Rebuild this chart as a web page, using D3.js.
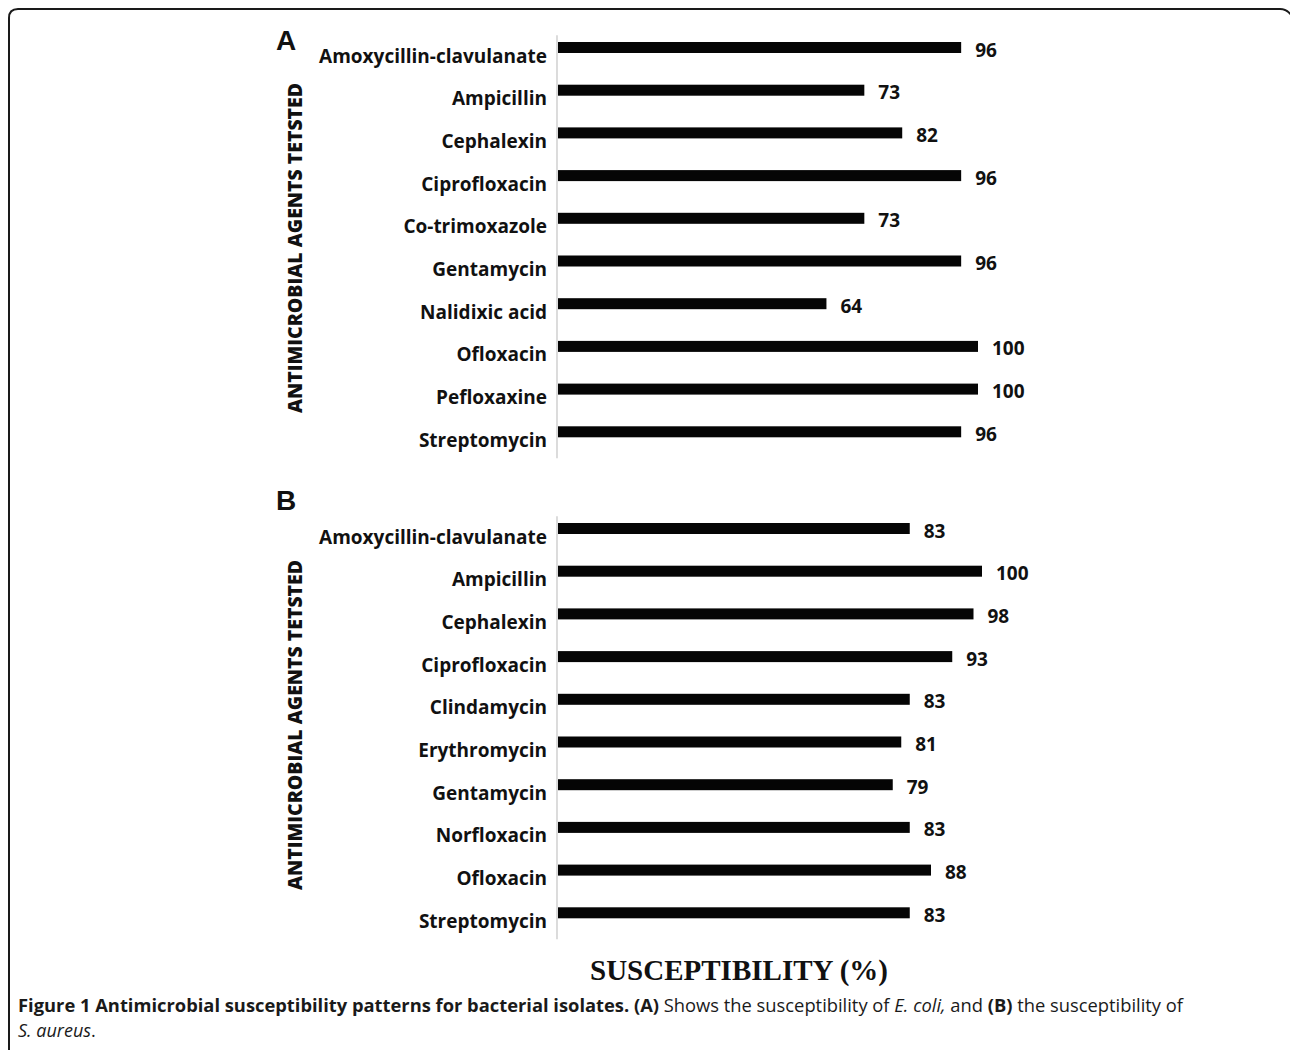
<!DOCTYPE html>
<html><head><meta charset="utf-8">
<script src="https://cdn.jsdelivr.net/npm/d3@7"></script>
<style>body{margin:0;background:#fff} svg{display:block}</style>
</head><body><svg id="c" width="1290" height="1050"></svg>
<script>
const catsA = ["Amoxycillin-clavulanate","Ampicillin","Cephalexin","Ciprofloxacin","Co-trimoxazole","Gentamycin","Nalidixic acid","Ofloxacin","Pefloxaxine","Streptomycin"];
const valsA = [96,73,82,96,73,96,64,100,100,96];
const catsB = ["Amoxycillin-clavulanate","Ampicillin","Cephalexin","Ciprofloxacin","Clindamycin","Erythromycin","Gentamycin","Norfloxacin","Ofloxacin","Streptomycin"];
const valsB = [83,100,98,93,83,81,79,83,88,83];
const yTitle = "ANTIMICROBIAL AGENTS TETSTED";
const xTitle = "SUSCEPTIBILITY (%)";

const svg = d3.select("#c");
svg.append("path")
  .attr("d","M9,1055 L9,18 Q9,9 18,9 L1280,9 Q1287,9 1292,16")
  .attr("fill","none").attr("stroke","#1a1a1a").attr("stroke-width",2);

function panel(cats, vals, top, xMax, letter, letterY, titleCY) {
  const y = d3.scaleBand().domain(cats).range([top, top + 427]);
  const x = d3.scaleLinear().domain([0, 100]).range([557, xMax]);
  const g = svg.append("g");
  const ax = g.append("g").attr("transform", `translate(${x(0)},0)`)
    .call(d3.axisLeft(y).tickSize(0).tickPadding(10));
  ax.select(".domain").remove();
  ax.selectAll("text")
    .attr("font-family","'Open Sans', sans-serif").attr("font-weight",700)
    .attr("font-size",19).attr("fill","#111")
    .attr("transform","translate(0,9)");
  g.append("line").attr("x1",x(0)).attr("x2",x(0))
    .attr("y1",top+9).attr("y2",top+432)
    .attr("stroke","#c4c4c4").attr("stroke-width",1.2);
  const bh = 11;
  g.selectAll("rect.bar").data(cats).join("rect").attr("class","bar")
    .attr("x", x(0) + 1)
    .attr("y", d => y(d) + y.bandwidth()/2 - bh/2)
    .attr("width", (d,i) => x(vals[i]) - x(0) - 1)
    .attr("height", bh).attr("fill","#050505");
  g.selectAll("text.val").data(cats).join("text").attr("class","val")
    .attr("x", (d,i) => x(vals[i]) + 14)
    .attr("y", d => y(d) + y.bandwidth()/2 + 2)
    .attr("dominant-baseline","central")
    .attr("font-family","'Open Sans', sans-serif").attr("font-weight",700)
    .attr("font-size",19).attr("fill","#111")
    .text((d,i) => vals[i]);
  g.append("text").attr("x",276).attr("y",letterY)
    .attr("font-family","'Liberation Sans', Arial, sans-serif").attr("font-weight",700)
    .attr("font-size",28).attr("fill","#111").text(letter);
  g.append("text")
    .attr("transform",`translate(295,${titleCY}) rotate(-90)`)
    .attr("text-anchor","middle").attr("dominant-baseline","central")
    .attr("font-family","'Open Sans', sans-serif").attr("font-weight",800)
    .attr("font-size",19).attr("fill","#111")
    .attr("textLength",330).attr("lengthAdjust","spacingAndGlyphs")
    .text(yTitle);
}
panel(catsA, valsA, 26.15, 978, "A", 50, 248);
panel(catsB, valsB, 507.15, 982, "B", 510, 725);

svg.append("text").attr("x",590).attr("y",980)
  .attr("font-family","'Liberation Serif', 'DejaVu Serif', serif").attr("font-weight",700)
  .attr("font-size",30).attr("fill","#111")
  .attr("textLength",298).attr("lengthAdjust","spacingAndGlyphs")
  .text(xTitle);

const cap = svg.append("text").attr("x",18).attr("y",1012)
  .attr("font-family","'Open Sans', sans-serif").attr("font-size",18).attr("fill","#1a1a1a")
  .attr("textLength",1165).attr("lengthAdjust","spacingAndGlyphs");
[["Figure 1 Antimicrobial susceptibility patterns for bacterial isolates.",700,"normal"],
 [" (A)",700,"normal"],[" Shows the susceptibility of ",400,"normal"],
 ["E. coli,",400,"italic"],[" and ",400,"normal"],["(B)",700,"normal"],
 [" the susceptibility of",400,"normal"]].forEach(([t,w,s]) =>
  cap.append("tspan").attr("font-weight",w).attr("font-style",s).text(t));
const cap2 = svg.append("text").attr("x",18).attr("y",1037)
  .attr("font-family","'Open Sans', sans-serif").attr("font-size",18).attr("fill","#1a1a1a");
cap2.append("tspan").attr("font-style","italic").text("S. aureus");
cap2.append("tspan").text(".");
</script></body></html>
